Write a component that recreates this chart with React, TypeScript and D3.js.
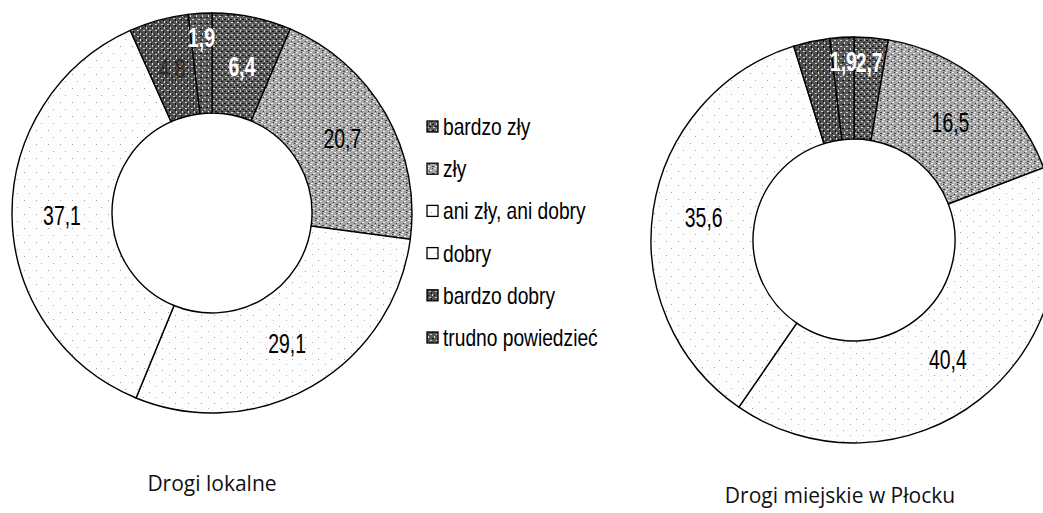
import React from "react";
import * as d3 from "d3";

// ---- data ----
const categories = [
  "bardzo zły",
  "zły",
  "ani zły, ani dobry",
  "dobry",
  "bardzo dobry",
  "trudno powiedzieć",
];
const lokalneValues = [6.4, 20.7, 29.1, 37.1, 4.8, 1.9];
const plockValues = [2.7, 16.5, 40.4, 35.6, 2.9, 1.9];
const chartTitles = ["Drogi lokalne", "Drogi miejskie w Płocku"];
const hiddenLabels = [[] as number[], [4]];

// ---- styles ----
const W = 1043;
const H = 513;
const fills = [
  "url(#pDark)",
  "url(#pMid)",
  "url(#pLight)",
  "url(#pLight2)",
  "url(#pDark2)",
  "url(#pDark3)",
];
const labelColors = ["#ffffff", "#000000", "#000000", "#000000", "#2a2a2a", "#ffffff"];

const charts = [
  { values: lokalneValues, cx: 212, cy: 213, r0: 100, r1: 200, tx: 212, ty: 491, hidden: hiddenLabels[0], title: chartTitles[0] },
  { values: plockValues, cx: 854, cy: 240, r0: 101, r1: 203, tx: 840, ty: 503, hidden: hiddenLabels[1], title: chartTitles[1] },
];

const fmt = (v: number) => d3.format(".1f")(v).replace(".", ",");

function Patterns() {
  return (
    <defs>
      <pattern id="pDark" width="6" height="6" patternUnits="userSpaceOnUse">
        <rect width="6" height="6" fill="#5c5c5c" />
        <rect x="1" y="1" width="2" height="1" fill="#d8d8d8" />
        <rect x="4" y="3" width="1" height="2" fill="#c8c8c8" />
        <rect x="3" y="0" width="2" height="1" fill="#111" />
        <rect x="0" y="4" width="2" height="1" fill="#111" />
      </pattern>
      <pattern id="pDark2" width="6" height="6" patternUnits="userSpaceOnUse">
        <rect width="6" height="6" fill="#505050" />
        <rect x="0" y="0" width="1" height="2" fill="#ddd" />
        <rect x="3" y="3" width="2" height="1" fill="#ccc" />
        <rect x="2" y="1" width="1" height="1" fill="#111" />
        <rect x="5" y="4" width="1" height="2" fill="#111" />
      </pattern>
      <pattern id="pDark3" width="6" height="6" patternUnits="userSpaceOnUse">
        <rect width="6" height="6" fill="#575757" />
        <rect x="2" y="0" width="1" height="2" fill="#e0e0e0" />
        <rect x="4" y="4" width="2" height="1" fill="#d0d0d0" />
        <rect x="0" y="2" width="2" height="1" fill="#111" />
      </pattern>
      <pattern id="pMid" width="7" height="7" patternUnits="userSpaceOnUse">
        <rect width="7" height="7" fill="#a6a6a6" />
        <rect x="0" y="0" width="2" height="1" fill="#f2f2f2" />
        <rect x="3" y="2" width="2" height="1" fill="#f2f2f2" />
        <rect x="1" y="5" width="2" height="1" fill="#eeeeee" />
        <rect x="5" y="0" width="1" height="1" fill="#333" />
        <rect x="2" y="3" width="1" height="1" fill="#333" />
        <rect x="5" y="5" width="2" height="1" fill="#444" />
      </pattern>
      <pattern id="pLight" width="13" height="11" patternUnits="userSpaceOnUse">
        <rect width="13" height="11" fill="#fdfdfd" />
        <rect x="2" y="3" width="1" height="1" fill="#9a9a9a" />
        <rect x="9" y="8" width="1" height="1" fill="#b5b5b5" />
      </pattern>
      <pattern id="pLight2" width="12" height="14" patternUnits="userSpaceOnUse">
        <rect width="12" height="14" fill="#fdfdfd" />
        <rect x="4" y="1" width="1" height="1" fill="#9a9a9a" />
        <rect x="9" y="8" width="1" height="1" fill="#aaaaaa" />
      </pattern>
    </defs>
  );
}

function Donut({ chart }: { chart: (typeof charts)[number] }) {
  const pie = d3.pie<number>().sort(null).value((d) => d).startAngle(0).endAngle(2 * Math.PI);
  const arcs = pie(chart.values);
  const arc = d3.arc<d3.PieArcDatum<number>>().innerRadius(chart.r0).outerRadius(chart.r1);
  return (
    <g>
      <g transform={`translate(${chart.cx},${chart.cy})`}>
        {arcs.map((a, i) => (
          <path key={i} d={arc(a) || ""} fill={fills[i]} stroke="#000" strokeWidth={1.4} />
        ))}
        {arcs.map((a, i) => {
          if (chart.hidden.includes(i)) return null;
          const small = a.data < 3;
          const r = small ? chart.r1 * 0.88 : (chart.r0 + chart.r1) / 2;
          const ang = (a.startAngle + a.endAngle) / 2;
          const x = r * Math.sin(ang);
          const y = -r * Math.cos(ang);
          const white = labelColors[i] === "#ffffff";
          return (
            <text
              key={"l" + i}
              transform={`translate(${x},${y}) scale(0.72,1)`}
              textAnchor="middle"
              dy="0.36em"
              fontFamily="Liberation Sans, Arial, sans-serif"
              fontSize={27}
              fontWeight={white ? 700 : 400}
              fill={labelColors[i]}
            >
              {fmt(a.data)}
            </text>
          );
        })}
      </g>
      <text
        x={chart.tx}
        y={chart.ty}
        textAnchor="middle"
        fontFamily="Open Sans, Noto Sans, sans-serif"
        fontSize={21}
        fill="#111"
      >
        {chart.title}
      </text>
    </g>
  );
}

function Legend() {
  const y = d3.scalePoint<string>().domain(categories).range([127, 338]);
  return (
    <g>
      {categories.map((c, i) => (
        <g key={c}>
          <rect x={427} y={(y(c) || 0) - 6} width={11} height={11} fill={fills[i]} stroke="#000" strokeWidth={1.3} />
          <text
            transform={`translate(443,${(y(c) || 0) + 8}) scale(0.8,1)`}
            fontFamily="Liberation Sans, Arial, sans-serif"
            fontSize={24}
            fill="#000"
          >
            {c}
          </text>
        </g>
      ))}
    </g>
  );
}

export default function App() {
  return (
    <svg
      width={W}
      height={H}
      style={{ position: "absolute", left: 0, top: 0, background: "#fff" }}
    >
      <Patterns />
      <rect width={W} height={H} fill="#fff" />
      {charts.map((c, i) => (
        <Donut key={i} chart={c} />
      ))}
      <Legend />
    </svg>
  );
}
